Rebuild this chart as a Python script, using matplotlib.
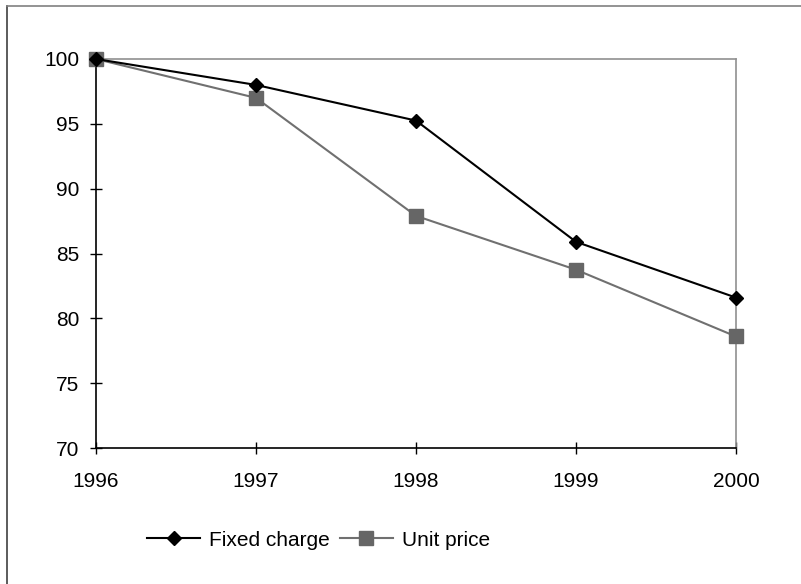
import matplotlib.pyplot as plt
from matplotlib.lines import Line2D

plt.rcParams["font.family"] = ["Liberation Sans", "DejaVu Sans"]

years = [1996, 1997, 1998, 1999, 2000]
fixed_charge = [100.0, 98.0, 95.25, 85.9, 81.6]
unit_price = [100.0, 97.0, 87.9, 83.75, 78.6]

fig = plt.figure(figsize=(8.01, 5.84), dpi=100)
ax = fig.add_axes([96 / 801, 1 - 448 / 584, 640 / 801, 389 / 584])

ax.plot(years, fixed_charge, color="black", lw=1.5, marker="D", ms=6.8,
        mfc="black", mec="black", label="Fixed charge", clip_on=False, zorder=4)
ax.plot(years, unit_price, color="#707070", lw=1.5, marker="s", ms=10,
        mfc="#666666", mec="#666666", label="Unit price", clip_on=False, zorder=3)

ax.set_xlim(1996, 2000)
ax.set_ylim(70, 100)
ax.set_xticks(years)
ax.set_yticks(range(70, 101, 5))
ax.tick_params(direction="inout", length=8, width=1, labelsize=15, color="black")
ax.tick_params(axis="x", pad=13)
ax.tick_params(axis="y", pad=8)
ax.spines["left"].set_color("black")
ax.spines["bottom"].set_color("black")
ax.spines["top"].set_color("#909090")
ax.spines["right"].set_color("#909090")
for s in ax.spines.values():
    s.set_linewidth(1.2)

fig.legend(loc="center", bbox_to_anchor=(318.5 / 801, 1 - 540 / 584), ncol=2,
           frameon=False, fontsize=15, handlelength=2.55, columnspacing=0.45,
           handletextpad=0.43)

fig.add_artist(Line2D([7 / 801, 7 / 801], [0, 1 - 6 / 584], color="#404040", lw=1.2))
fig.add_artist(Line2D([7 / 801, 1], [1 - 6 / 584, 1 - 6 / 584], color="#808080", lw=1.2))

fig.savefig("out.png", dpi=100)
